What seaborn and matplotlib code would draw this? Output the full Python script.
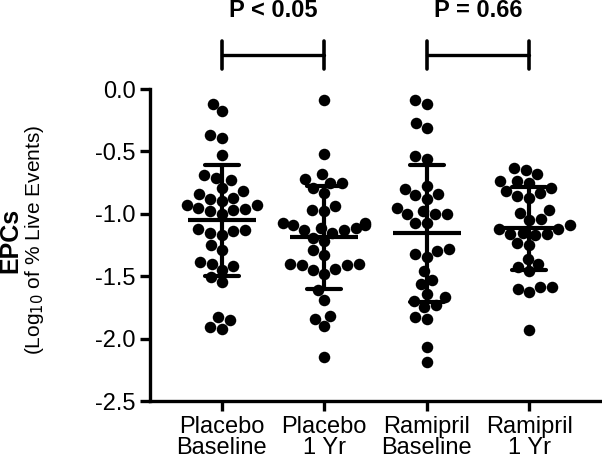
import matplotlib
matplotlib.use('Agg')
import matplotlib.pyplot as plt
import numpy as np
import pandas as pd
import seaborn as sns

groups = ["Placebo\nBaseline", "Placebo\n1 Yr", "Ramipril\nBaseline", "Ramipril\n1 Yr"]

placebo_base = [-0.12, -0.18, -0.37, -0.39, -0.53, -0.71, -0.69, -0.73, -0.79, -0.82,
                -0.84, -0.87, -0.90, -0.88, -0.93, -0.96, -0.98, -1.00, -0.97, -0.95,
                -0.93, -1.13, -1.15, -1.17, -1.14, -1.12, -1.25, -1.29, -1.42, -1.39,
                -1.40, -1.45, -1.51, -1.55, -1.85, -1.83, -1.92, -1.91]
placebo_1yr = [-0.09, -0.52, -0.68, -0.75, -0.72, -0.75, -0.79, -0.83, -0.94, -0.98,
               -0.97, -1.07, -1.09, -1.11, -1.13, -1.15, -1.13, -1.11, -1.09, -1.07,
               -1.22, -1.19, -1.33, -1.29, -1.40, -1.41, -1.45, -1.48, -1.44, -1.41,
               -1.40, -1.61, -1.69, -1.84, -1.90, -1.82, -2.15]
ramipril_base = [-0.09, -0.12, -0.31, -0.27, -0.54, -0.56, -0.78, -0.84, -0.88, -0.85,
                 -0.80, -0.98, -1.00, -1.07, -1.07, -1.00, -1.00, -0.95, -1.30, -1.32,
                 -1.28, -1.35, -1.46, -1.56, -1.53, -1.64, -1.70, -1.75, -1.67, -1.73,
                 -1.83, -1.84, -2.07, -2.19]
ramipril_1yr = [-0.63, -0.68, -0.65, -0.75, -0.74, -0.74, -0.82, -0.83, -0.79, -0.87,
                -0.86, -0.99, -0.97, -1.04, -1.05, -1.15, -1.16, -1.12, -1.09, -1.12,
                -1.17, -1.16, -1.23, -1.25, -1.36, -1.40, -1.46, -1.43, -1.59, -1.60,
                -1.63, -1.59, -1.93]

comparisons = [(0, 1, "P < 0.05"), (2, 3, "P = 0.66")]
yticks = [0.0, -0.5, -1.0, -1.5, -2.0, -2.5]

df = pd.concat([
    pd.DataFrame({"group": g, "value": v})
    for g, v in zip(groups, [placebo_base, placebo_1yr, ramipril_base, ramipril_1yr])
])

sns.set_style("ticks")
plt.rcParams['font.family'] = ['Liberation Sans', 'DejaVu Sans']
plt.rcParams.update({"text.color": "black", "axes.edgecolor": "black",
                     "xtick.color": "black", "ytick.color": "black",
                     "axes.labelcolor": "black"})

fig = plt.figure(figsize=(6.02, 4.62), dpi=100)
ax = fig.add_axes([150/602, 1 - 401/462, 451/602, (401 - 89)/462])

sns.swarmplot(data=df, x="group", y="value", order=groups, color="black",
              size=8.3, ax=ax, clip_on=False, zorder=2)
sns.pointplot(data=df, x="group", y="value", order=groups, color="black",
              estimator="mean", errorbar="sd", capsize=0.33, linestyle="none",
              marker="_", markersize=49, markeredgewidth=3,
              err_kws={"linewidth": 3}, ax=ax, zorder=3)

ax.set_xlim(-0.7, 3.7)
ax.set_ylim(-2.5, 0.0)
ax.set_yticks(yticks)
ax.set_yticklabels(["%.1f" % t for t in yticks])
ax.set_xlabel("")
ax.set_ylabel("")
for side in ["top", "right"]:
    ax.spines[side].set_visible(False)
for side in ["left", "bottom"]:
    ax.spines[side].set_linewidth(2.4)
ax.tick_params(axis="both", width=2.4, length=7, color="black", labelcolor="black")
ax.tick_params(axis="y", labelsize=17)
ax.tick_params(axis="x", labelsize=17, pad=4)
for lab in ax.get_xticklabels():
    lab.set_linespacing(0.9)

# significance brackets
for a, b, label in comparisons:
    ax.plot([a, b], [0.27, 0.27], color="black", lw=2.4, clip_on=False)
    for xx in (a, b):
        ax.plot([xx, xx], [0.16, 0.385], color="black", lw=2.6, clip_on=False)
    ax.text((a + b) / 2, 0.63, label, ha="center", va="center",
            fontsize=17, fontweight="bold", clip_on=False)

fig.text(0.018, 0.48, "EPCs", rotation=90, ha="center", va="center",
         fontsize=18, fontweight="bold")
fig.text(0.058, 0.48, "(Log$_{10}$ of % Live Events)", rotation=90, ha="center",
         va="center", fontsize=15)

plt.savefig("out.png", dpi=100)
